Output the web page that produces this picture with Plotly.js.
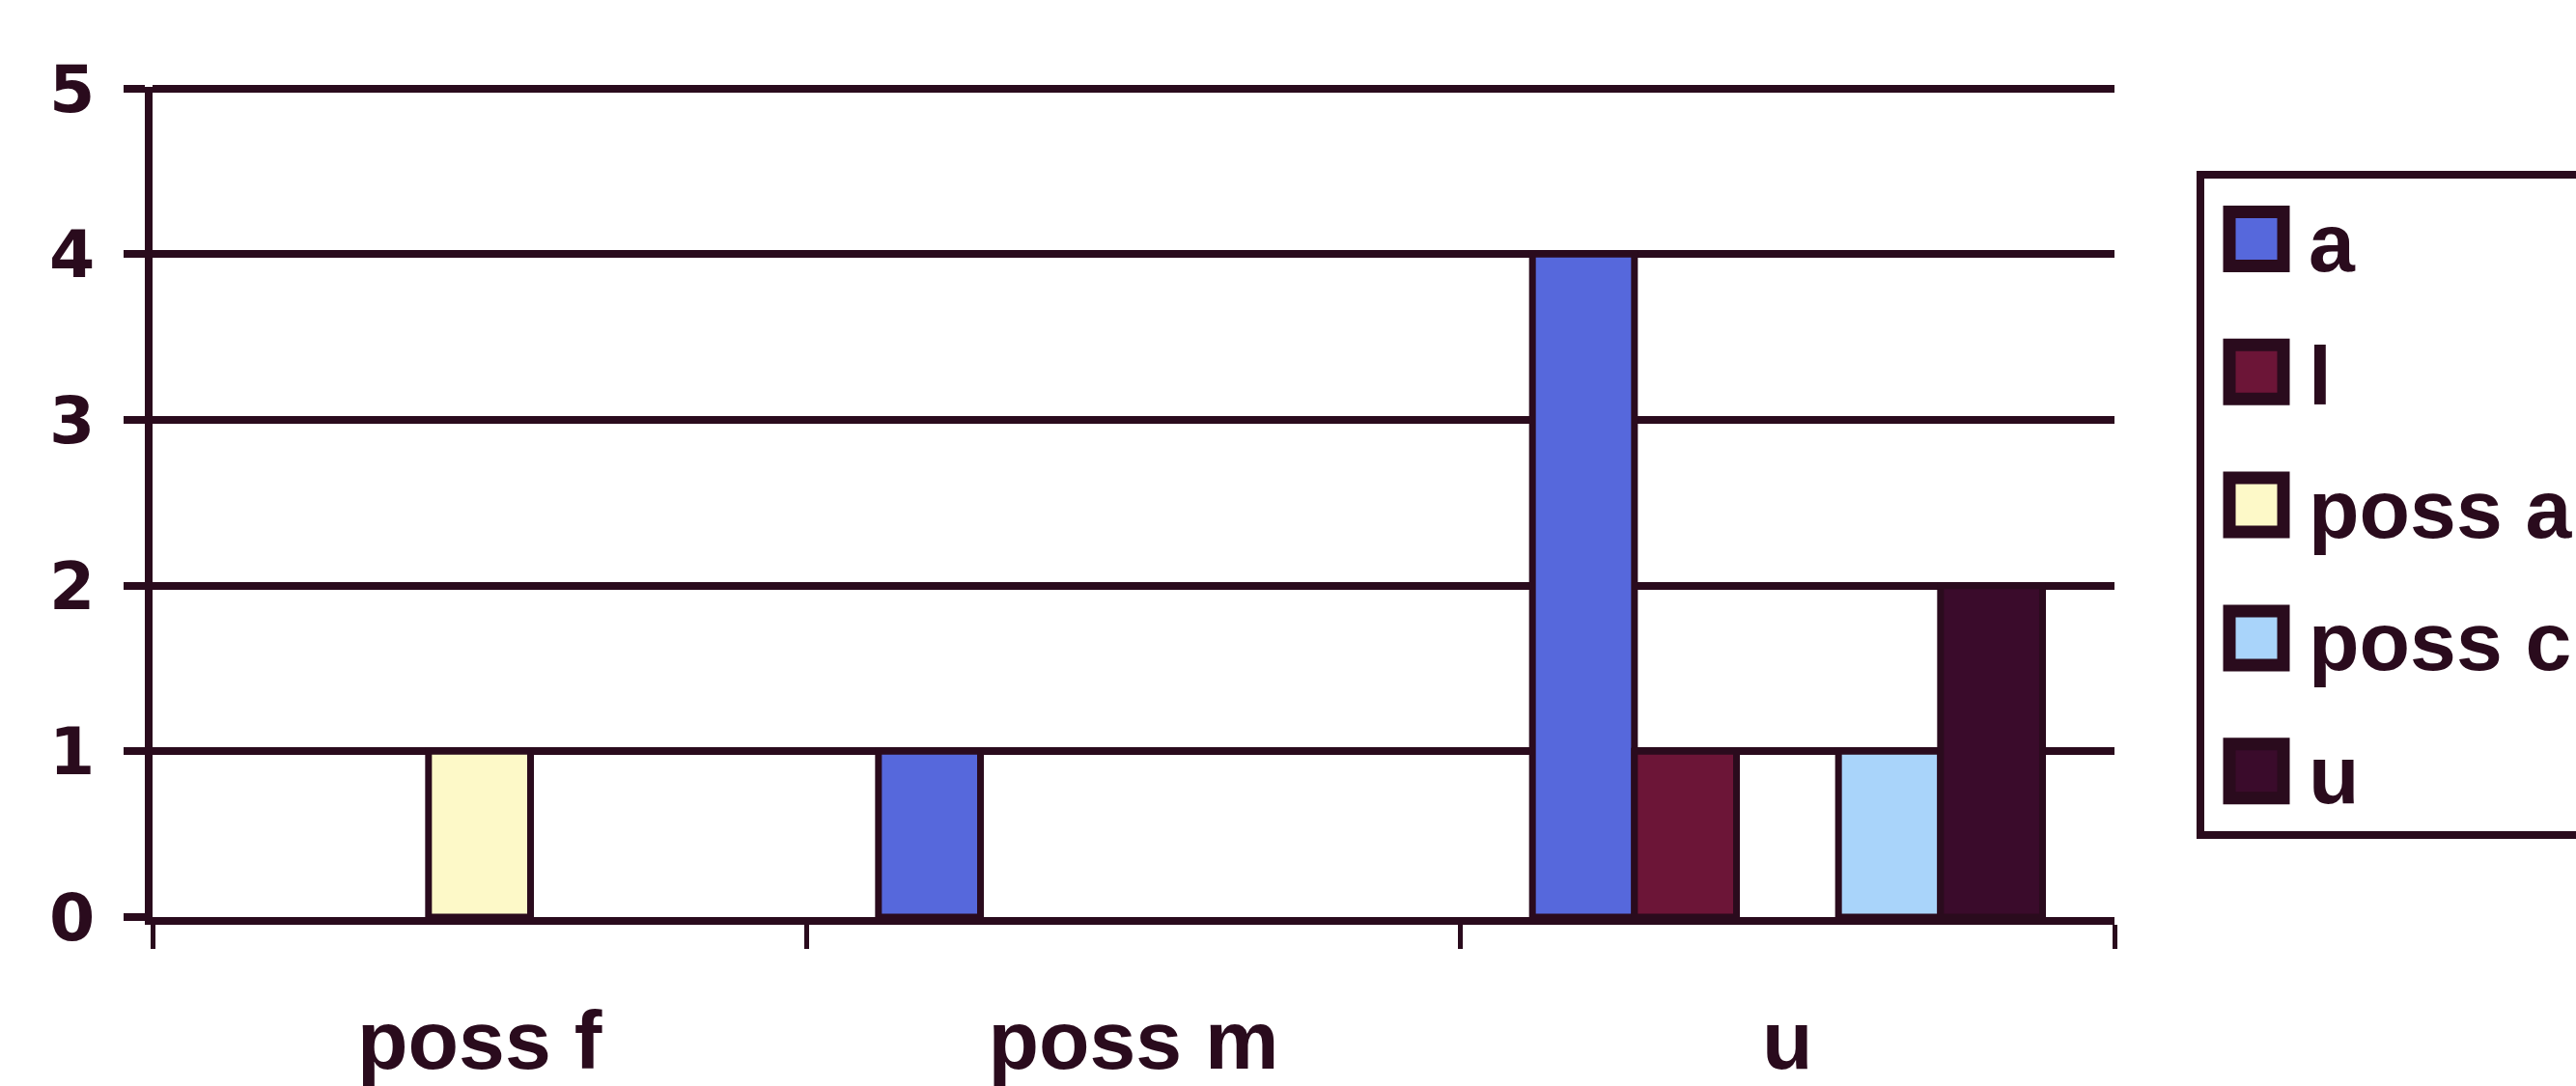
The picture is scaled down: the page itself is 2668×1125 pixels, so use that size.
<!DOCTYPE html>
<html>
<head>
<meta charset="utf-8">
<script src="https://cdn.plot.ly/plotly-3.0.1.min.js"></script>
<style>
  html, body { margin: 0; padding: 0; background: #ffffff; }
  #chart { width: 2668px; height: 1125px; }
</style>
</head>
<body>
<div id="chart"></div>
<script>
// Categories along the x axis
const categories = ['poss f', 'poss m', 'u'];

// Series (legend entries) and their values per category (empty cell = null)
const seriesNames = ['a', 'l', 'poss a', 'poss c', 'u'];
const valuesA     = [null, 1, 4];
const valuesL     = [null, null, 1];
const valuesPossA = [1, null, null];
const valuesPossC = [null, null, 1];
const valuesU     = [null, null, 2];

// Y tick values
const yTicks = [0, 1, 2, 3, 4, 5];

const seriesValues = [valuesA, valuesL, valuesPossA, valuesPossC, valuesU];
const seriesColors = ['#5668dc', '#6c1537', '#fdf9c8', '#a9d4fa', '#3a0b2b'];
const ink = '#2a0b1d';
const fontFamily = '"Liberation Sans", Arial, sans-serif';
const digitFamily = '"DejaVu Sans", "Liberation Sans", sans-serif';

const traces = seriesNames.map((name, i) => ({
  type: 'bar',
  name: name,
  x: categories,
  y: seriesValues[i],
  legendgroup: 'g' + i,
  marker: { color: seriesColors[i], line: { color: ink, width: 7 } }
}));

const layout = {
  width: 2668,
  height: 1125,
  paper_bgcolor: '#ffffff',
  plot_bgcolor: '#ffffff',
  margin: { l: 158, r: 478, t: 90, b: 175, pad: 0 },
  barmode: 'group',
  bargap: 0.22,
  bargroupgap: 0,
  font: { family: fontFamily, color: ink, size: 80, weight: 'bold' },
  xaxis: {
    type: 'category',
    showline: true,
    linecolor: ink,
    linewidth: 8,
    ticks: 'outside',
    tickson: 'boundaries',
    ticklen: 25,
    tickwidth: 5,
    tickcolor: ink,
    showgrid: false,
    tickfont: { family: fontFamily, size: 86, color: ink, weight: 'bold' },
    ticklabelstandoff: 46
  },
  yaxis: {
    range: [0, 5.01],
    tickvals: yTicks,
    showline: true,
    linecolor: ink,
    linewidth: 8,
    ticks: 'outside',
    ticklen: 22,
    tickwidth: 8,
    tickcolor: ink,
    showgrid: true,
    gridcolor: ink,
    gridwidth: 8,
    zeroline: false,
    tickfont: { family: digitFamily, size: 68, color: ink, weight: 'bold' },
    ticklabelstandoff: 16
  },
  legend: {
    xref: 'container',
    yref: 'container',
    x: 0.8527,
    y: 0.8426,
    xanchor: 'left',
    yanchor: 'top',
    bgcolor: '#ffffff',
    bordercolor: ink,
    borderwidth: 8,
    traceorder: 'grouped',
    tracegroupgap: 23,
    maxheight: 1000,
    itemwidth: 98,
    font: { family: fontFamily, size: 86, color: ink, weight: 'bold' }
  },
  showlegend: true
};

Plotly.newPlot('chart', traces, layout, { displayModeBar: false, staticPlot: true }).then(function (gd) {
  // Enlarge the legend swatches to the big framed squares of the original
  gd.querySelectorAll('.legend .legendpoints path').forEach(function (p) {
    p.setAttribute('d', 'M28,28H-28V-28H28Z');
    p.style.strokeWidth = '13px';
    p.style.stroke = ink;
  });
});
</script>
</body>
</html>
